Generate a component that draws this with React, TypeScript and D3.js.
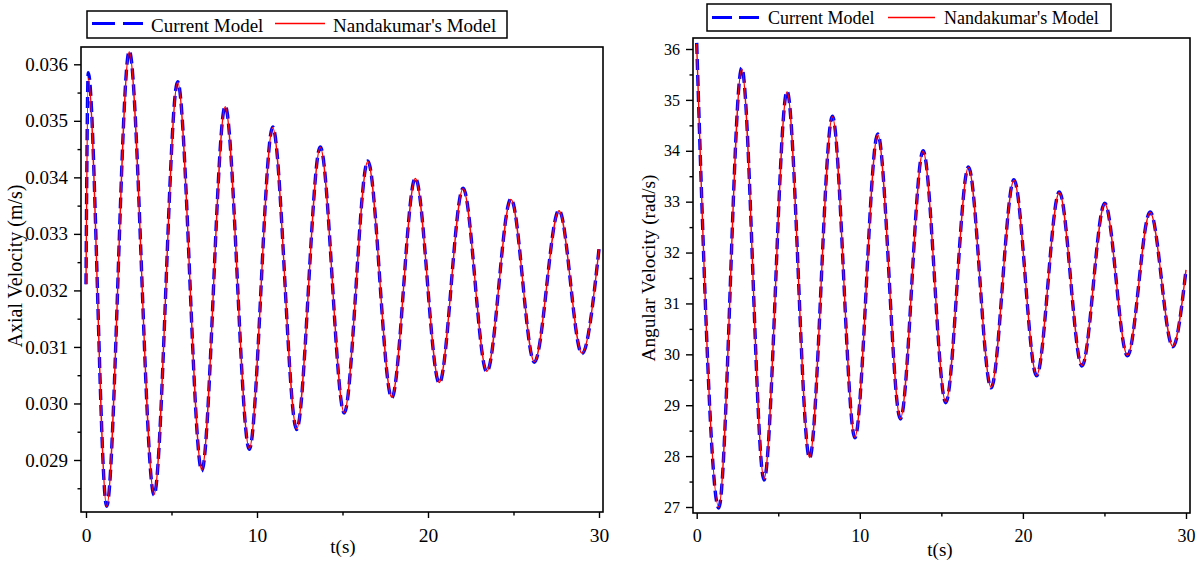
import React, { useEffect, useRef } from "react";
import * as d3 from "d3";

// tick values
const timeTicks = [0, 10, 20, 30];
const axialTicks = [0.029, 0.03, 0.031, 0.032, 0.033, 0.034, 0.035, 0.036];
const angularTicks = [27, 28, 29, 30, 31, 32, 33, 34, 35, 36];
const legendLabels = ["Current Model", "Nandakumar's Model"];

// axial velocity (m/s), read at the turning points
const axialTime = [0, 0.13, 1.21, 2.53, 3.98, 5.36, 6.77, 8.14, 9.55, 10.92, 12.32, 13.7, 15.1, 16.48, 17.88, 19.26, 20.66, 22.05, 23.44, 24.85, 26.22, 27.66, 29.0, 30];
const axialCurrent = [0.03211, 0.03585, 0.02818, 0.036235, 0.02838, 0.03569, 0.02881, 0.03526, 0.02919, 0.03489, 0.02954, 0.03454, 0.02983, 0.03429, 0.0301, 0.03399, 0.03036, 0.03381, 0.03056, 0.03362, 0.03073, 0.03342, 0.03088, 0.03273];
const axialNandakumar = [0.03211, 0.03575, 0.02818, 0.03622, 0.02839, 0.03568, 0.02882, 0.03525, 0.0292, 0.03488, 0.02955, 0.03453, 0.02984, 0.03428, 0.03011, 0.03398, 0.03037, 0.0338, 0.03057, 0.03361, 0.03074, 0.03341, 0.03089, 0.03273];

// angular velocity (rad/s)
const angularTime = [0, 1.35, 2.76, 4.13, 5.54, 6.92, 8.32, 9.7, 11.1, 12.49, 13.88, 15.27, 16.66, 18.05, 19.45, 20.84, 22.23, 23.62, 25.02, 26.41, 27.8, 29.19, 30];
const angularCurrent = [36.12, 26.98, 35.63, 27.53, 35.17, 27.96, 34.68, 28.36, 34.33, 28.73, 34.0, 29.05, 33.68, 29.34, 33.43, 29.58, 33.19, 29.77, 32.97, 29.97, 32.8, 30.15, 31.66];
const angularNandakumar = [36.1, 27.0, 35.61, 27.55, 35.16, 27.97, 34.67, 28.37, 34.32, 28.74, 33.99, 29.06, 33.67, 29.35, 33.42, 29.59, 33.18, 29.78, 32.96, 29.98, 32.79, 30.16, 31.66];

const FONT = "Liberation Serif, Times New Roman, serif";

const panels = [
  {
    time: axialTime, current: axialCurrent, other: axialNandakumar,
    yTicks: axialTicks, fmt: d3.format(".3f"), title: "Axial Velocity (m/s)",
    frame: { x0: 81, y0: 47, x1: 603, y1: 512 },
    xRange: [86, 599], yRange: [460, 64.3],
    yFont: 19, xFont: 19.5, titleX: 22, titleY: 266, titleFont: 20,
    xTitleX: 343, xTitleY: 553,
    legend: { x: 87, y: 11, w: 420, h: 27, s1: [92, 143], t1: 151, s2: [275, 325], t2: 333, ly: 23.5, base: 31.5, font: 19, dash: "23,8" },
  },
  {
    time: angularTime, current: angularCurrent, other: angularNandakumar,
    yTicks: angularTicks, fmt: d3.format("d"), title: "Angular Velocity (rad/s)",
    frame: { x0: 693, y0: 38, x1: 1190, y1: 513 },
    xRange: [696.7, 1186], yRange: [507, 49],
    yFont: 16, xFont: 18, titleX: 655, titleY: 268, titleFont: 19.3,
    xTitleX: 940, xTitleY: 556,
    legend: { x: 707, y: 4, w: 404, h: 27, s1: [712, 761], t1: 768, s2: [888, 935], t2: 944, ly: 17.5, base: 24, font: 18, dash: "20,7" },
  },
];

const midpoints = (t: number[]) => t.slice(1).map((v, i) => (v + t[i]) / 2);

const App = () => {
  const svgRef = useRef<SVGSVGElement>(null);

  useEffect(() => {
    const svg = d3.select(svgRef.current);
    svg.selectAll("*").remove();

    panels.forEach((p, idx) => {
      const g = svg.append("g");
      const f = p.frame;
      const x = d3.scaleLinear().domain([timeTicks[0], timeTicks[timeTicks.length - 1]]).range(p.xRange);
      const y = d3.scaleLinear().domain([p.yTicks[0], p.yTicks[p.yTicks.length - 1]]).range(p.yRange);

      const clipId = `clip${idx}`;
      g.append("clipPath").attr("id", clipId)
        .append("rect")
        .attr("x", f.x0).attr("y", f.y0)
        .attr("width", f.x1 - f.x0).attr("height", f.y1 - f.y0);

      const line = d3.line<number>()
        .x((d, i) => x(p.time[i]))
        .y(d => y(d))
        .curve(d3.curveMonotoneX);

      const plot = g.append("g").attr("clip-path", `url(#${clipId})`);
      plot.append("path")
        .attr("d", line(p.current))
        .attr("fill", "none")
        .attr("stroke", "#0000ff")
        .attr("stroke-width", 3.4)
        .attr("stroke-dasharray", "11,5");
      plot.append("path")
        .attr("d", line(p.other))
        .attr("fill", "none")
        .attr("stroke", "#ff0000")
        .attr("stroke-width", 1.4);

      // frame
      g.append("rect")
        .attr("x", f.x0).attr("y", f.y0)
        .attr("width", f.x1 - f.x0).attr("height", f.y1 - f.y0)
        .attr("fill", "none").attr("stroke", "#000").attr("stroke-width", 1.6);

      const styleAxis = (sel: any, size: number) => {
        sel.attr("font-family", FONT).attr("font-size", size);
        sel.select(".domain").remove();
        sel.selectAll("line").attr("stroke", "#000").attr("stroke-width", 1.4);
        sel.selectAll("text").attr("fill", "#000")
          .attr("font-family", FONT).attr("font-size", size);
      };

      // y axis
      g.append("g").attr("transform", `translate(${f.x0},0)`)
        .call(d3.axisLeft(y).tickValues(p.yTicks).tickSize(7).tickPadding(6).tickFormat(p.fmt as any))
        .call(s => styleAxis(s, p.yFont));
      g.append("g").attr("transform", `translate(${f.x0},0)`)
        .call(d3.axisLeft(y)
          .tickValues([...midpoints(p.yTicks), p.yTicks[0] - (p.yTicks[1] - p.yTicks[0]) / 2]
            .filter(v => y(v) <= f.y1 && y(v) >= f.y0))
          .tickSize(3.5).tickFormat(() => ""))
        .call(s => styleAxis(s, p.yFont));

      // x axis
      g.append("g").attr("transform", `translate(0,${f.y1})`)
        .call(d3.axisBottom(x).tickValues(timeTicks).tickSize(6).tickPadding(10).tickFormat(d3.format("d") as any))
        .call(s => styleAxis(s, p.xFont));
      g.append("g").attr("transform", `translate(0,${f.y1})`)
        .call(d3.axisBottom(x).tickValues(midpoints(timeTicks)).tickSize(3.5).tickFormat(() => ""))
        .call(s => styleAxis(s, p.xFont));

      // titles
      g.append("text")
        .attr("transform", `translate(${p.titleX},${p.titleY}) rotate(-90)`)
        .attr("text-anchor", "middle")
        .attr("font-family", FONT).attr("font-size", p.titleFont)
        .text(p.title);
      g.append("text")
        .attr("x", p.xTitleX).attr("y", p.xTitleY)
        .attr("text-anchor", "middle")
        .attr("font-family", FONT).attr("font-size", 19)
        .text("t(s)");

      // legend
      const L = p.legend;
      const lg = g.append("g");
      lg.append("rect")
        .attr("x", L.x).attr("y", L.y).attr("width", L.w).attr("height", L.h)
        .attr("fill", "#fff").attr("stroke", "#000").attr("stroke-width", 1.5);
      lg.append("line")
        .attr("x1", L.s1[0]).attr("x2", L.s1[1]).attr("y1", L.ly).attr("y2", L.ly)
        .attr("stroke", "#0000ff").attr("stroke-width", 3.2).attr("stroke-dasharray", L.dash);
      lg.append("line")
        .attr("x1", L.s2[0]).attr("x2", L.s2[1]).attr("y1", L.ly).attr("y2", L.ly)
        .attr("stroke", "#ff0000").attr("stroke-width", 1.5);
      [L.t1, L.t2].forEach((tx, i) => {
        lg.append("text")
          .attr("x", tx).attr("y", L.base)
          .attr("font-family", FONT).attr("font-size", L.font)
          .text(legendLabels[i]);
      });
    });
  }, []);

  return (
    <svg
      ref={svgRef}
      width={1204}
      height={566}
      style={{ position: "absolute", left: 0, top: 0, background: "#fff" }}
    />
  );
};

export default App;
